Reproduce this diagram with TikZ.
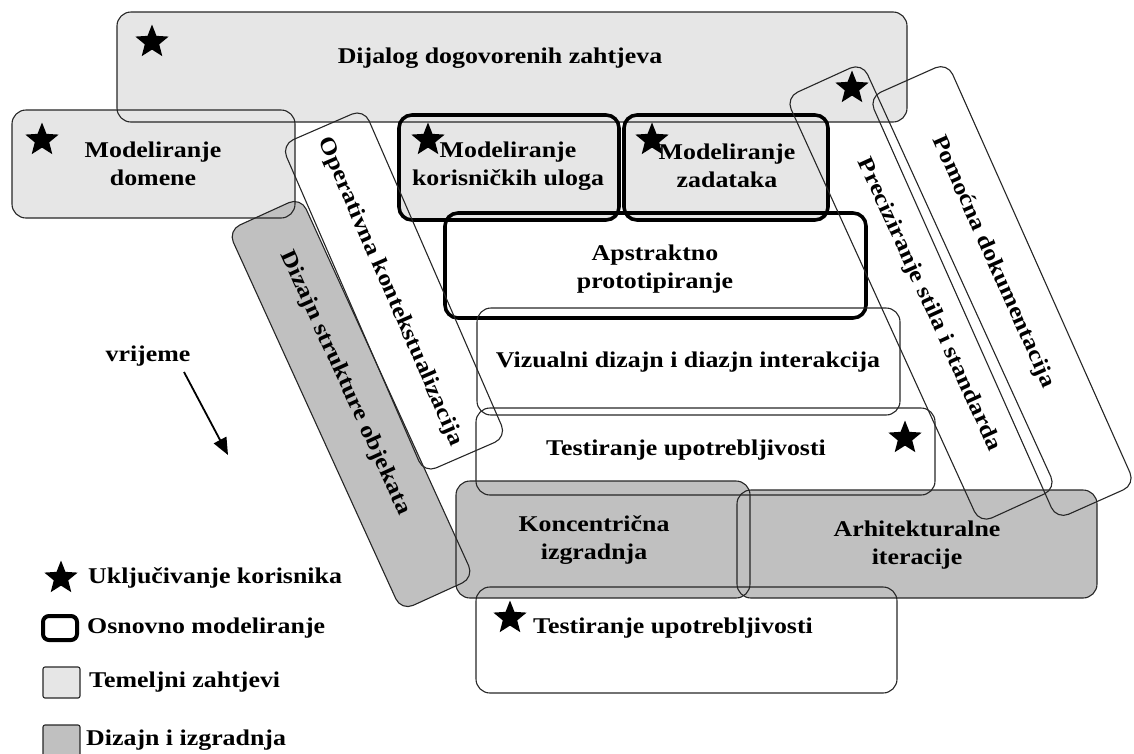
\documentclass[tikz,border=0pt]{standalone}
\usepackage{fontspec}
\setmainfont[FakeStretch=1.15]{Liberation Serif}
\usetikzlibrary{shapes.geometric,arrows.meta}
\pgfdeclarelayer{bg}
\pgfsetlayers{bg,main}
\definecolor{lightfill}{HTML}{E6E6E6}
\definecolor{darkfill}{HTML}{C0C0C0}
\tikzset{
  box/.style={draw=black!85, rectangle, rounded corners=14pt, line width=1.1pt, inner sep=0pt, outer sep=0pt},
  corebox/.style={box, draw=black, line width=3.6pt, rounded corners=13pt},
  txt/.style={font=\fontsize{22.5}{28}\selectfont\bfseries, align=center, inner sep=0pt},
  starmark/.style={star, star points=5, star point ratio=2.3, fill=black, draw=none, minimum size=35pt, inner sep=0pt},
}
\newcommand{\fillbox}[3][14pt]{\fill[#3, rounded corners=#1] (#2.north west) -- (#2.north east) -- (#2.south east) -- (#2.south west) -- cycle;}
\begin{document}
\begin{tikzpicture}[x=1pt,y=-1pt]
\useasboundingbox (0,0) rectangle (1134,753);
% axis-aligned boxes
\node[box, minimum width=790, minimum height=110] (dij) at (512,67) {};
\node[box, minimum width=283, minimum height=108] (dom) at (153.5,164) {};
\node[corebox, minimum width=220, minimum height=105] (mku) at (509,167.5) {};
\node[corebox, minimum width=204, minimum height=105] (mza) at (726,167.5) {};
\node[corebox, minimum width=421, minimum height=105] (aps) at (655.5,265.5) {};
\node[box, minimum width=423, minimum height=107] (viz) at (688.5,361.5) {};
\node[box, minimum width=459, minimum height=87] (ts1) at (705.5,451.5) {};
\node[box, minimum width=294, minimum height=117] (kon) at (603,539.5) {};
\node[box, minimum width=360, minimum height=108] (arh) at (917,544) {};
\node[box, minimum width=421, minimum height=106] (ts2) at (686.5,640) {};
% rotated boxes
\node[box, rounded corners=13pt, minimum width=358, minimum height=90, rotate=-66.5] (ope) at (394,291) {};
\node[box, rounded corners=13pt, minimum width=418, minimum height=80, rotate=-65.5] (diz) at (351,404) {};
\node[box, rounded corners=13pt, minimum width=468, minimum height=84, rotate=-65.5] (pre) at (921,293) {};
\node[box, rounded corners=13pt, minimum width=462, minimum height=86, rotate=-66] (pom) at (1002,291) {};
% fills
\begin{pgfonlayer}{bg}
\fillbox{dij}{lightfill}
\fillbox{dom}{lightfill}
\fillbox[13pt]{mku}{lightfill}
\fillbox[13pt]{mza}{lightfill}
\fillbox[13pt]{diz}{darkfill}
\fillbox{kon}{darkfill}
\fillbox{arh}{darkfill}
\end{pgfonlayer}
% texts
\node[txt] (tdij) at (500,58) {Dijalog dogovorenih zahtjeva};
\node[txt] (tdom) at (153,164) {Modeliranje\\domene};
\node[txt] (tmku) at (508,166) {Modeliranje\\korisničkih uloga};
\node[txt] (tmza) at (727,166) {Modeliranje\\zadataka};
\node[txt] (taps) at (655,269) {Apstraktno\\prototipiranje};
\node[txt] (tviz) at (688,362) {Vizualni dizajn i diazjn interakcija};
\node[txt] (tts1) at (686,450) {Testiranje upotrebljivosti};
\node[txt] (tkon) at (594,540) {Koncentrična\\izgradnja};
\node[txt] (tarh) at (917,545) {Arhitekturalne\\iteracije};
\node[txt] (tts2) at (673,628) {Testiranje upotrebljivosti};
\node[txt, rotate=-66.5] (tope) at (390,292) {Operativna kontekstualizacija};
\node[txt, rotate=-65.5] (tdiz) at (345,383) {Dizajn strukture objekata};
\node[txt, rotate=-65.5] (tpre) at (929,305) {Preciziranje stila i standarda};
\node[txt, rotate=-66] (tpom) at (993,262) {Pomoćna dokumentacija};
% stars
\node[starmark] (s1) at (152,42) {};
\node[starmark] (s2) at (42,140) {};
\node[starmark] (s3) at (428,140) {};
\node[starmark] (s4) at (652,140) {};
\node[starmark] (s5) at (852,88) {};
\node[starmark] (s6) at (905,438) {};
\node[starmark] (s7) at (510,618) {};
% time arrow
\node[txt] (vri) at (148,356) {vrijeme};
\coordinate (ta) at (184,372);
\coordinate (tb) at (228,455);
\draw[line width=1.8pt, -{Triangle[length=17pt,width=14pt]}] (ta) -- (tb);
% legend
\node[starmark] (ls) at (61,578) {};
\node[txt, anchor=west] (l1) at (88,578) {Uključivanje korisnika};
\node[corebox, line width=4pt, rounded corners=6pt, minimum width=34, minimum height=24] (lb1) at (60,628) {};
\node[txt, anchor=west] (l2) at (87,628) {Osnovno modeliranje};
\node[box, rounded corners=2pt, minimum width=37, minimum height=31, fill=lightfill] (lb2) at (61.5,682.5) {};
\node[txt, anchor=west] (l3) at (89,682) {Temeljni zahtjevi};
\node[box, rounded corners=2pt, minimum width=37, minimum height=40, fill=darkfill] (lb3) at (61.5,745) {};
\node[txt, anchor=west] (l4) at (86,740) {Dizajn i izgradnja};
\end{tikzpicture}
\end{document}
